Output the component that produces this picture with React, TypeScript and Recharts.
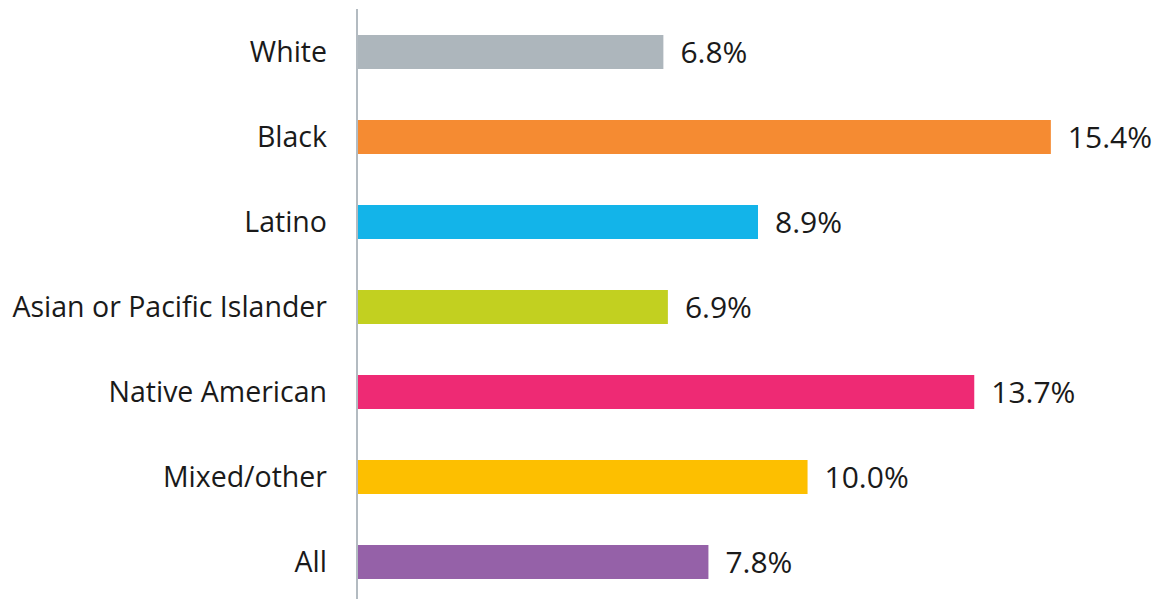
import React from 'react';
import { BarChart, Bar, XAxis, YAxis, Cell, LabelList } from 'recharts';

const groups = ['White', 'Black', 'Latino', 'Asian or Pacific Islander', 'Native American', 'Mixed/other', 'All'];
const rates = [6.8, 15.4, 8.9, 6.9, 13.7, 10.0, 7.8];
const colors = ['#adb6bc', '#f58b32', '#13b4e9', '#c2d020', '#ee2a74', '#fdbf00', '#9561a8'];

const data = groups.map((g, i) => ({ group: g, rate: rates[i] }));

const FONT = '"Open Sans", sans-serif';

const App = () => {
    return (
        <div style={{ position: 'absolute', left: 0, top: 0, width: 1176, height: 599, overflow: 'hidden', background: '#fff' }}>
            <BarChart
                width={1176}
                height={604}
                data={data}
                layout="vertical"
                margin={{ top: 9, right: 8, left: 0, bottom: 0 }}
                barSize={34}
            >
                <XAxis type="number" domain={[0, 18]} hide />
                <YAxis
                    type="category"
                    dataKey="group"
                    width={357}
                    tickLine={false}
                    tickSize={0}
                    tickMargin={30}
                    axisLine={{ stroke: '#b3bbc1', strokeWidth: 2 }}
                    tick={{ fill: '#1a1a1a', fontSize: 28.5, fontFamily: FONT }}
                />
                <Bar dataKey="rate" isAnimationActive={false}>
                    {data.map((d, i) => (
                        <Cell key={d.group} fill={colors[i]} />
                    ))}
                    <LabelList
                        dataKey="rate"
                        position="right"
                        offset={17}
                        formatter={(v: number) => `${v.toFixed(1)}%`}
                        style={{ fill: '#1a1a1a', fontSize: 30, fontFamily: FONT }}
                    />
                </Bar>
            </BarChart>
        </div>
    );
};

export default App;
